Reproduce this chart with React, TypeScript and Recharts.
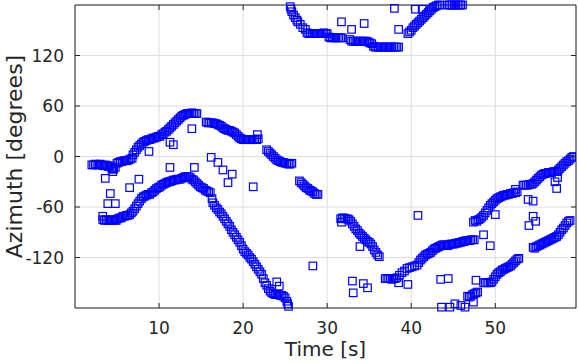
import React from 'react';
import { ScatterChart, Scatter, XAxis, YAxis, CartesianGrid, ReferenceArea } from 'recharts';

// [time s, azimuth deg]
const trackUpperLeft: [number, number][] = [
  [2.0, -10], [2.2, -10], [2.4, -9], [2.6, -10], [2.8, -10], [3.0, -9], [3.2, -10], [3.4, -11],
  [3.6, -10], [3.8, -11], [4.0, -12], [4.2, -11], [4.4, -13], [4.4, -15], [4.5, -18], [4.6, -15],
  [4.8, -13], [5.0, -8], [5.2, -7], [5.4, -6], [5.6, -6], [5.8, -5], [6.0, -5], [6.2, -5],
  [6.4, -4], [6.6, -3], [6.8, -2], [6.9, 2], [7.1, 5], [7.3, 8], [7.5, 11], [7.7, 13],
  [7.9, 15], [8.1, 17], [8.3, 18], [8.5, 19], [8.7, 20], [8.9, 20], [9.1, 21], [9.3, 22],
  [9.5, 22], [9.7, 23], [9.9, 24], [10.1, 24], [10.3, 26], [10.5, 27], [10.7, 29], [10.9, 30],
  [11.1, 32], [11.3, 34], [11.5, 36], [11.7, 38], [11.9, 40], [12.1, 42], [12.3, 44], [12.5, 46],
  [12.7, 48], [12.9, 49], [13.1, 50], [13.3, 51], [13.5, 51], [13.7, 51], [13.9, 52], [14.1, 51],
  [14.3, 51], [14.5, 51],
  [15.6, 41], [15.8, 40], [16.0, 40], [16.2, 40], [16.4, 40], [16.6, 39], [16.8, 39], [17.0, 38],
  [17.2, 37], [17.4, 36], [17.6, 34], [17.8, 33], [18.0, 32], [18.2, 31], [18.4, 31], [18.6, 30],
  [18.8, 29], [19.0, 28], [19.2, 26], [19.4, 24], [19.6, 22], [19.8, 21], [20.0, 20], [20.2, 20],
  [20.4, 20], [20.6, 20], [20.8, 20], [21.0, 20], [21.2, 20], [21.4, 20], [21.6, 20], [21.8, 21],
  [21.7, 26],
  [22.8, 8], [23.0, 6], [23.2, 4], [23.4, 2], [23.6, 0], [23.8, -2], [24.0, -4], [24.2, -5],
  [24.4, -6], [24.6, -7], [24.8, -7], [25.0, -8], [25.2, -8], [25.4, -9], [25.6, -9], [25.8, -8],
  [26.7, -29], [26.9, -31], [27.1, -33], [27.3, -35], [27.5, -37], [27.7, -38], [27.9, -40],
  [28.1, -41], [28.3, -42], [28.5, -44], [28.7, -45], [28.9, -45],
];

const trackLowerLeft: [number, number][] = [
  [3.3, -71], [3.3, -75], [3.5, -76], [3.7, -75], [3.9, -76], [4.1, -76], [4.3, -75], [4.5, -76],
  [4.7, -75], [4.9, -76], [5.1, -74], [5.3, -73], [5.5, -73], [5.7, -71], [5.9, -71], [6.1, -70],
  [6.3, -70], [6.5, -69], [6.7, -67], [6.9, -65], [7.1, -62], [7.3, -59], [7.5, -56], [7.7, -53],
  [7.9, -50], [8.1, -48], [8.3, -47], [8.5, -46], [8.7, -45], [8.9, -45], [9.1, -43], [9.3, -42],
  [9.5, -40], [9.7, -38], [9.9, -37], [10.1, -36], [10.3, -34], [10.5, -33], [10.7, -32], [10.9, -31],
  [11.1, -30], [11.3, -30], [11.5, -29], [11.7, -28], [11.9, -28], [12.1, -27], [12.3, -27], [12.5, -27],
  [12.7, -26], [12.9, -25], [13.1, -24], [13.3, -24], [13.5, -24], [13.7, -25], [13.9, -27], [14.1, -28],
  [14.3, -30], [14.5, -32], [14.7, -34], [14.9, -36], [15.1, -37], [15.3, -38], [15.5, -40], [15.7, -41],
  [15.9, -42], [16.1, -43], [16.3, -50], [16.4, -55], [16.6, -58], [16.8, -61], [17.0, -63], [17.2, -66],
  [17.4, -68], [17.6, -71], [17.8, -74], [18.0, -77], [18.2, -80], [18.4, -83], [18.6, -87], [18.8, -90],
  [19.0, -93], [19.2, -96], [19.4, -99], [19.6, -102], [19.8, -106], [20.0, -110], [20.2, -113], [20.4, -115],
  [20.6, -117], [20.8, -120], [21.0, -122], [21.2, -125], [21.4, -128], [21.6, -131], [21.8, -134], [22.0, -137],
  [22.2, -140], [22.4, -145], [22.6, -150], [22.8, -153], [23.0, -157], [23.2, -160], [23.4, -162], [23.6, -163],
  [23.8, -164], [24.0, -164], [24.2, -164], [24.4, -165], [24.6, -165], [24.8, -166], [25.0, -168], [25.2, -172],
  [25.3, -175], [25.4, -178],
];

const trackMiddle: [number, number][] = [
  [31.6, -74], [31.7, -78], [31.8, -73], [32.0, -73], [32.2, -74], [32.4, -74], [32.6, -75], [32.8, -77],
  [33.0, -80], [33.2, -83], [33.4, -86], [33.6, -88], [33.8, -91], [34.0, -93], [34.2, -95], [34.4, -97],
  [34.6, -99], [34.8, -101], [35.0, -102], [35.2, -104], [35.4, -107], [35.6, -111], [35.8, -114], [36.0, -117],
  [36.2, -119],
];

const trackRightUpper: [number, number][] = [
  [36.9, -145], [37.1, -145], [37.3, -145], [37.5, -145], [37.7, -146], [37.9, -145], [38.1, -145], [38.3, -144],
  [38.6, -141], [38.9, -138], [39.2, -136], [39.5, -133], [39.8, -132], [40.1, -131], [40.4, -130], [40.7, -129],
  [40.9, -126], [41.1, -123], [41.3, -121], [41.5, -119], [41.7, -117], [41.9, -116], [42.1, -115], [42.3, -114],
  [42.5, -112], [42.7, -110], [42.9, -109], [43.1, -108], [43.3, -107], [43.5, -106], [43.7, -105], [43.9, -105],
  [44.1, -105], [44.3, -106], [44.5, -105], [44.7, -104], [44.9, -104], [45.1, -104], [45.3, -103], [45.5, -103],
  [45.7, -102], [45.9, -102], [46.1, -101], [46.3, -101], [46.5, -100], [46.7, -100], [46.9, -100], [47.1, -99],
  [47.3, -99], [47.5, -99],
  [47.4, -78], [47.6, -76], [47.8, -77], [48.0, -75], [48.2, -74], [48.4, -72], [48.6, -70], [48.8, -67],
  [49.0, -64], [49.2, -61], [49.4, -58], [49.6, -56], [49.8, -54], [50.0, -52], [50.2, -50], [50.4, -49],
  [50.6, -48], [50.8, -47], [51.0, -46], [51.2, -46], [51.4, -45], [51.6, -45], [51.8, -44], [52.0, -44],
  [52.2, -43], [52.4, -43], [52.6, -42],
  [53.3, -34], [53.5, -34], [53.7, -34], [53.9, -34], [54.1, -33], [54.3, -33], [54.5, -32], [54.7, -30],
  [54.9, -28], [55.1, -26], [55.3, -24], [55.5, -22], [55.7, -21], [55.9, -20], [56.1, -20], [56.3, -19],
  [56.5, -19], [56.7, -19], [56.9, -18], [57.1, -18], [57.3, -18], [57.5, -16], [57.7, -14], [57.9, -12],
  [58.1, -10], [58.3, -8], [58.5, -6], [58.7, -5], [58.9, -3], [59.1, -1], [59.3, 0],
];

const trackRightLower: [number, number][] = [
  [46.7, -166], [46.9, -167], [47.1, -166], [47.3, -164], [47.4, -173], [47.5, -163], [47.7, -162], [47.9, -161],
  [48.6, -150], [48.8, -150], [49.0, -150], [49.2, -150], [49.4, -150], [49.6, -149], [49.8, -146], [50.0, -143],
  [50.2, -140], [50.4, -138], [50.6, -137], [50.8, -135], [51.0, -134], [51.2, -133], [51.4, -132], [51.6, -131],
  [51.8, -130], [52.0, -128], [52.2, -126], [52.4, -124], [52.6, -122], [52.8, -121],
  [54.5, -108], [54.7, -109], [54.9, -107], [55.1, -106], [55.3, -105], [55.5, -104], [55.7, -103], [55.9, -102],
  [56.1, -101], [56.3, -100], [56.5, -99], [56.7, -98], [56.9, -97], [57.1, -96], [57.3, -95], [57.5, -93],
  [57.7, -90], [57.9, -87], [58.1, -85], [58.3, -82], [58.5, -79], [58.7, -77], [58.9, -76],
];

const trackWrapTop: [number, number][] = [
  [25.6, 178], [25.7, 175], [25.8, 172], [26.0, 168], [26.2, 165], [26.4, 162], [26.5, 160], [26.8, 157],
  [27.1, 153], [27.4, 151], [27.6, 147], [27.8, 146], [28.0, 146], [28.2, 146], [28.4, 146], [28.6, 146],
  [28.8, 146], [29.0, 146], [29.2, 146], [29.4, 146], [29.6, 147], [29.8, 146], [30.0, 146], [30.2, 142],
  [30.4, 141], [30.6, 141], [30.8, 141], [31.0, 141], [31.2, 141], [31.4, 141], [31.6, 141], [31.8, 141],
  [32.7, 139], [32.9, 137], [33.1, 137], [33.3, 137], [33.5, 137], [33.7, 137], [33.9, 137], [34.1, 137],
  [34.3, 137], [34.5, 137], [34.7, 137], [34.9, 136], [35.1, 135], [35.3, 134], [35.5, 131], [35.7, 130],
  [35.9, 130], [36.1, 130], [36.3, 130], [36.5, 130], [36.7, 130], [36.9, 130], [37.1, 130], [37.3, 130],
  [37.5, 130], [37.7, 130], [37.9, 130], [38.1, 130], [38.3, 130], [38.5, 130],
  [39.6, 146], [39.8, 148], [40.0, 150], [40.2, 153], [40.4, 155], [40.6, 157], [40.8, 159], [41.0, 161],
  [41.2, 163], [41.4, 165], [41.6, 167], [41.8, 169], [42.0, 171], [42.2, 173], [42.4, 175], [42.6, 177],
  [42.8, 178], [43.0, 179], [43.2, 180], [43.4, 180], [44.3, 180], [44.5, 180], [44.7, 180], [44.9, 180],
  [45.1, 180], [45.3, 180], [45.5, 180], [45.7, 180], [45.9, 180], [46.1, 180],
];

const outliers: [number, number][] = [
  [3.6, -26], [4.2, -44], [3.9, -56], [4.8, -56], [6.5, -37], [7.6, -27], [8.8, 6], [11.3, 17],
  [11.7, 14], [11.3, -13], [13.9, 33], [14.2, -13], [16.2, -1], [17.0, -7], [17.6, -16], [18.2, -31],
  [18.7, -21], [21.2, -36], [24.0, -149], [24.3, -154], [28.3, -130], [33.9, -107], [33.0, -148], [34.3, -151],
  [34.8, -156], [33.1, -162], [39.6, -152], [38.5, -150], [43.5, -146], [44.4, -145], [47.7, -147], [40.8, -70],
  [48.6, -93], [49.4, -106], [50.0, -69], [52.4, -39], [53.9, -51], [54.5, -53], [54.5, -71], [54.8, -77],
  [54.0, -82], [57.1, -30], [57.3, -38], [57.4, -25], [43.6, -179], [44.6, -179], [45.2, -175], [45.9, -177],
  [46.4, -179], [31.7, 160], [32.9, 151], [34.4, 158], [38.0, 176], [38.5, 151], [40.5, 175], [41.3, 175],
];

const xTicks = [10, 20, 30, 40, 50];
const yTicks = [-120, -60, 0, 60, 120];

const W = 578;
const H = 363;
const LEFT = 75;
const RIGHT = 576;
const TOP = 5;
const BOTTOM = 308;
const INK = '#262626';
const BLUE = '#0000ff';
const FONT = 'DejaVu Sans';

const toPoints = (arr: [number, number][]) => arr.map(([t, az]) => ({ t, az }));

const Square = (props: any) => {
  const { cx, cy } = props;
  if (cx == null || cy == null) return null;
  return <rect x={cx - 3.75} y={cy - 3.75} width={7.5} height={7.5} fill="none" stroke={BLUE} strokeWidth={1.2} />;
};

const XTick = (props: any) => {
  const { x, payload } = props;
  return (
    <g>
      <line x1={x} x2={x} y1={BOTTOM} y2={BOTTOM - 5} stroke={INK} />
      <line x1={x} x2={x} y1={TOP} y2={TOP + 5} stroke={INK} />
      <text x={x} y={334} textAnchor="middle" fill={INK} fontSize={17} fontFamily={FONT}>
        {payload.value}
      </text>
    </g>
  );
};

const YTick = (props: any) => {
  const { y, payload } = props;
  return (
    <g>
      <line x1={LEFT} x2={LEFT + 5} y1={y} y2={y} stroke={INK} />
      <line x1={RIGHT} x2={RIGHT - 5} y1={y} y2={y} stroke={INK} />
      <text x={64} y={y} dy={6} textAnchor="end" fill={INK} fontSize={17} fontFamily={FONT}>
        {payload.value}
      </text>
    </g>
  );
};

const series = [trackUpperLeft, trackLowerLeft, trackMiddle, trackRightUpper, trackRightLower, trackWrapTop, outliers];

export default function App() {
  return (
    <div style={{ position: 'fixed', left: 0, top: 0, width: W, height: H, background: '#fff' }}>
      <ScatterChart width={W} height={H} margin={{ top: TOP, right: W - RIGHT, bottom: 0, left: 0 }}>
        <CartesianGrid stroke="#dedede" strokeWidth={1} />
        <XAxis
          type="number"
          dataKey="t"
          domain={[0, 59.6]}
          ticks={xTicks}
          height={H - BOTTOM}
          axisLine={false}
          tickLine={false}
          tick={<XTick />}
          allowDataOverflow
          label={{ value: 'Time [s]', position: 'insideBottom', offset: 7, fill: INK, fontSize: 20, fontFamily: FONT }}
        />
        <YAxis
          type="number"
          dataKey="az"
          domain={[-180, 180]}
          ticks={yTicks}
          width={LEFT}
          axisLine={false}
          tickLine={false}
          tick={<YTick />}
          label={{
            value: 'Azimuth [degrees]',
            angle: -90,
            position: 'insideLeft',
            offset: 14,
            fill: INK,
            fontSize: 22,
            fontFamily: FONT,
            style: { textAnchor: 'middle' },
          }}
        />
        <ReferenceArea x1={0} x2={59.6} y1={-180} y2={180} fill="none" fillOpacity={0} stroke={INK} strokeWidth={1} strokeOpacity={1} />
        {series.map((s, i) => (
          <Scatter key={i} data={toPoints(s)} shape={<Square />} isAnimationActive={false} />
        ))}
      </ScatterChart>
    </div>
  );
}
